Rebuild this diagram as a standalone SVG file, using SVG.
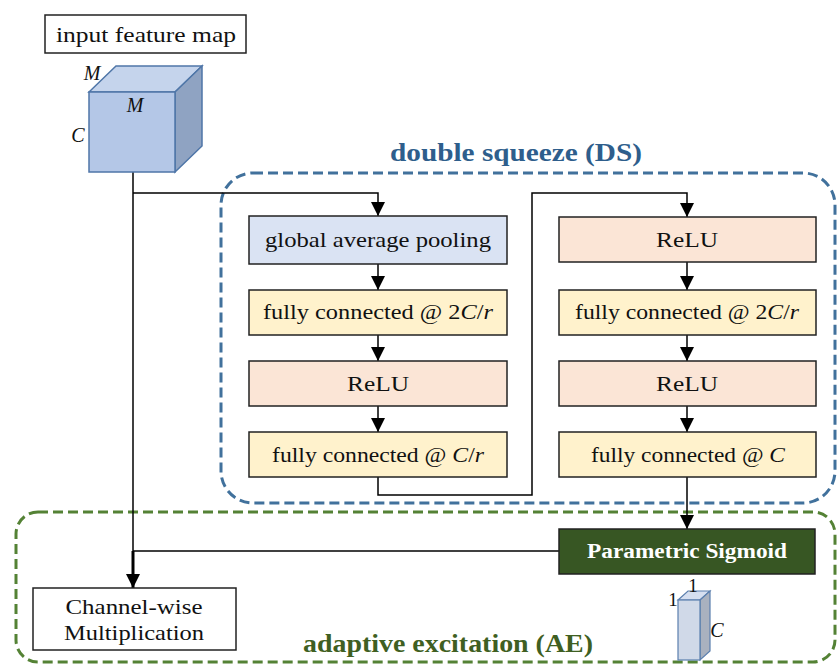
<svg xmlns="http://www.w3.org/2000/svg" width="838" height="664" viewBox="0 0 838 664">
<defs>
<marker id="ah" viewBox="0 0 14 14" refX="14" refY="7" markerWidth="14" markerHeight="14" markerUnits="userSpaceOnUse" orient="auto">
<path d="M0,0 L14,7 L0,14 z" fill="#000"/>
</marker>
<style>
.t{font-family:"Liberation Serif","DejaVu Serif",serif;font-size:22px;fill:#111;text-anchor:middle}
.i{font-style:italic}
.box{stroke:#222;stroke-width:1.5}
.blue{fill:#dae3f3}
.yel{fill:#fff2cc}
.pink{fill:#fbe5d6}
.con{fill:none;stroke:#000;stroke-width:1.5}
</style>
</defs>
<rect width="838" height="664" fill="#fff"/>
<g id="ds-frame">
<rect x="221" y="173" width="614" height="330" rx="32" fill="none" stroke="#41719c" stroke-width="3" stroke-dasharray="10,5"/>
<text x="516" y="161" class="t" style="font-size:26px;font-weight:bold;fill:#2e5e8c" textLength="252" lengthAdjust="spacingAndGlyphs">double squeeze (DS)</text>
</g>
<g id="ae-frame">
<rect x="16" y="512" width="819" height="150" rx="22" fill="none" stroke="#548235" stroke-width="3" stroke-dasharray="10,5"/>
<text x="448" y="652" class="t" style="font-size:26px;font-weight:bold;fill:#3f5f22" textLength="290" lengthAdjust="spacingAndGlyphs">adaptive excitation (AE)</text>
</g>
<g id="connectors">
<path class="con" d="M133,172 V551"/>
<path d="M133,551 V588" fill="none" stroke="#000" stroke-width="3" marker-end="url(#ah)"/>
<path class="con" d="M133,193 H378 V216" marker-end="url(#ah)"/>
<path class="con" d="M378,264 V290" marker-end="url(#ah)"/>
<path class="con" d="M378,335 V361" marker-end="url(#ah)"/>
<path class="con" d="M378,406 V432" marker-end="url(#ah)"/>
<path class="con" d="M378,477 V495 H532 V193 H687 V217" marker-end="url(#ah)"/>
<path class="con" d="M687,262 V290" marker-end="url(#ah)"/>
<path class="con" d="M687,335 V361" marker-end="url(#ah)"/>
<path class="con" d="M687,406 V432" marker-end="url(#ah)"/>
<path class="con" d="M687,477 V529" marker-end="url(#ah)"/>
<path class="con" d="M559,551 H133"/>
</g>
<g id="input-label">
<rect x="45" y="15" width="201" height="38" fill="#fff" stroke="#222" stroke-width="1.5"/>
<text x="146" y="42" class="t" textLength="180" lengthAdjust="spacingAndGlyphs">input feature map</text>
</g>
<g id="input-cube">
<polygon points="89,92 116,66 202,66 175,92" fill="#c5d4ec" stroke="#4f76a8" stroke-width="1.5"/>
<polygon points="175,92 202,66 202,146 175,172" fill="#8fa3c2" stroke="#4f76a8" stroke-width="1.5"/>
<rect x="89" y="92" width="86" height="80" fill="#b4c7e7" stroke="#4f76a8" stroke-width="1.5"/>
<text x="92" y="80" class="t i" style="font-size:20px">M</text>
<text x="135" y="112" class="t i" style="font-size:20px">M</text>
<text x="78" y="142" class="t i" style="font-size:20px">C</text>
</g>
<g id="gap">
<rect x="249" y="216" width="258" height="48" class="box blue"/>
<text x="378" y="247" class="t" textLength="226" lengthAdjust="spacingAndGlyphs">global average pooling</text>
</g>
<g id="fc1">
<rect x="249" y="290" width="258" height="45" class="box yel"/>
<text x="378" y="319" class="t" textLength="230" lengthAdjust="spacingAndGlyphs">fully connected @ 2<tspan class="i">C</tspan>/<tspan class="i">r</tspan></text>
</g>
<g id="relu1">
<rect x="249" y="361" width="258" height="45" class="box pink"/>
<text x="378" y="391" class="t" textLength="62" lengthAdjust="spacingAndGlyphs">ReLU</text>
</g>
<g id="fc2">
<rect x="249" y="432" width="258" height="45" class="box yel"/>
<text x="378" y="462" class="t" textLength="212" lengthAdjust="spacingAndGlyphs">fully connected @ <tspan class="i">C</tspan>/<tspan class="i">r</tspan></text>
</g>
<g id="relu2">
<rect x="559" y="217" width="257" height="45" class="box pink"/>
<text x="687" y="247" class="t" textLength="62" lengthAdjust="spacingAndGlyphs">ReLU</text>
</g>
<g id="fc3">
<rect x="559" y="290" width="257" height="45" class="box yel"/>
<text x="687" y="319" class="t" textLength="224" lengthAdjust="spacingAndGlyphs">fully connected @ 2<tspan class="i">C</tspan>/<tspan class="i">r</tspan></text>
</g>
<g id="relu3">
<rect x="559" y="361" width="257" height="45" class="box pink"/>
<text x="687" y="391" class="t" textLength="62" lengthAdjust="spacingAndGlyphs">ReLU</text>
</g>
<g id="fc4">
<rect x="559" y="432" width="257" height="45" class="box yel"/>
<text x="688" y="462" class="t" textLength="194" lengthAdjust="spacingAndGlyphs">fully connected @ <tspan class="i">C</tspan></text>
</g>
<g id="psigmoid">
<rect x="559" y="529" width="256" height="45" fill="#375623" stroke="#222" stroke-width="1.5"/>
<text x="687" y="558" class="t" style="font-weight:bold;fill:#fff;font-size:20px" textLength="200" lengthAdjust="spacingAndGlyphs">Parametric Sigmoid</text>
</g>
<g id="cmul">
<rect x="33" y="588" width="203" height="62" fill="#fff" stroke="#222" stroke-width="1.5"/>
<text x="134" y="614" class="t" textLength="137" lengthAdjust="spacingAndGlyphs">Channel-wise</text>
<text x="134" y="640" class="t" textLength="140" lengthAdjust="spacingAndGlyphs">Multiplication</text>
</g>
<g id="weight-vector">
<polygon points="678,600 688,591 710,591 700,600" fill="#d6dff0" stroke="#5b7fae" stroke-width="1.2"/>
<polygon points="700,600 710,591 710,651 700,660" fill="#a9b1bf" stroke="#5b7fae" stroke-width="1.2"/>
<rect x="678" y="600" width="22" height="60" fill="#d0d9e8" stroke="#5b7fae" stroke-width="1.2"/>
<text x="673" y="606" class="t" style="font-size:19px">1</text>
<text x="693" y="592" class="t" style="font-size:19px">1</text>
<text x="717" y="637" class="t i" style="font-size:20px">C</text>
</g>
</svg>
